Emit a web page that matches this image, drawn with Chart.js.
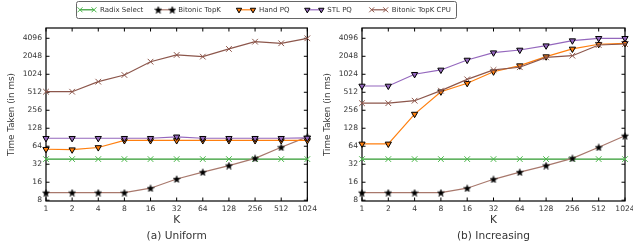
<!DOCTYPE html>
<html><head><meta charset="utf-8">
<script src="https://cdn.jsdelivr.net/npm/chart.js@4/dist/chart.umd.min.js"></script>
<style>
html,body{margin:0;padding:0;background:#fff;width:633px;height:248px;overflow:hidden;position:relative}
canvas{position:absolute;top:0}
</style></head><body>
<canvas id="leg" width="633" height="22" style="left:0"></canvas>
<canvas id="c1" width="320" height="248" style="left:0"></canvas>
<canvas id="c2" width="330" height="248" style="left:316px"></canvas>
<script>
// ---- data ----
const K = ['1','2','4','8','16','32','64','128','256','512','1024'];
const yTicks = [8,16,32,64,128,256,512,1024,2048,4096];
const seriesNames = ['Radix Select','Bitonic TopK','Hand PQ','STL PQ','Bitonic TopK CPU'];

const radixU   = [39,39,39,39,39,39,39,39,39,39,39];
const bitonicU = [10.7,10.7,10.7,10.7,12.7,18.1,23.6,30.4,40.2,61.5,92];
const handU    = [57,56,61,80,80,80,80,80,80,80,80];
const stlU     = [87,87,87,87,87,92,87,87,87,87,88];
const cpuU     = [523,523,770,996,1663,2156,2020,2717,3594,3380,4096];

const radixI   = [39,39,39,39,39,39,39,39,39,39,39];
const bitonicI = [10.7,10.7,10.7,10.7,12.7,17.9,23.6,30.4,40.2,61.5,96];
const handI    = [70,70,221,523,724,1130,1427,2020,2717,3257,3380];
const stlI     = [652,652,1024,1210,1773,2353,2609,3080,3740,4096,4096];
const cpuI     = [336,336,370,545,843,1210,1343,1966,2095,3166,3286];

// ---- styles ----
Chart.defaults.font.family = "'DejaVu Sans', sans-serif";
const TXT = '#333';
function makeStar(size, color) {
  const c = document.createElement('canvas'); c.width = c.height = size;
  const g = c.getContext('2d'); g.fillStyle = color; g.strokeStyle = '#222'; g.lineWidth = 0.6;
  g.beginPath();
  const cx = size/2, cy = size/2 + 0.4, R = size/2 - 0.3, r = R*0.45;
  for (let i = 0; i < 10; i++) {
    const a = -Math.PI/2 + i*Math.PI/5, rr = i % 2 ? r : R;
    g.lineTo(cx + rr*Math.cos(a), cy + rr*Math.sin(a));
  }
  g.closePath(); g.fill(); g.stroke(); return c;
}
const star = makeStar(8, '#000');
const styles = [
  {line:'#2e9a2e', fill:'#4cb84c', edge:'#4cb84c', pointStyle:'crossRot', radius:4, rotation:0, bw:1, order:5},
  {line:'#a8786c', fill:'#000', edge:'#000', pointStyle:star, radius:4, rotation:0, bw:0, order:4},
  {line:'#ff7f0e', fill:'#ff7f0e', edge:'#000', pointStyle:'triangle', radius:3.6, rotation:180, bw:1, order:3},
  {line:'#9467bd', fill:'#9467bd', edge:'#000', pointStyle:'triangle', radius:3.6, rotation:180, bw:1, order:2},
  {line:'#8c564b', fill:'#8c564b', edge:'#8c564b', pointStyle:'crossRot', radius:4, rotation:0, bw:1, order:1},
];
function datasets(arrs) {
  return arrs.map((d, i) => {
    const s = styles[i];
    return {
      label: seriesNames[i], data: d, borderColor: s.line, borderWidth: 1.2,
      backgroundColor: s.fill, pointBackgroundColor: s.fill, pointBorderColor: s.edge,
      pointBorderWidth: s.bw, pointStyle: s.pointStyle, pointRadius: s.radius,
      pointRotation: s.rotation, tension: 0, clip: false, order: s.order
    };
  });
}

const framePlugin = {
  id: 'frame',
  beforeDatasetsDraw(chart) {
    const {ctx, chartArea: a, scales: {x, y}} = chart;
    ctx.save();
    ctx.strokeStyle = '#000'; ctx.lineWidth = 1.2;
    ctx.strokeRect(a.left, a.top, a.right - a.left, a.bottom - a.top);
    ctx.lineWidth = 1;
    ctx.beginPath();
    K.forEach((k, i) => {
      const px = x.getPixelForTick(i);
      ctx.moveTo(px, a.bottom); ctx.lineTo(px, a.bottom - 3.5);
      ctx.moveTo(px, a.top); ctx.lineTo(px, a.top + 3.5);
    });
    yTicks.forEach(v => {
      const py = y.getPixelForValue(v);
      ctx.moveTo(a.left, py); ctx.lineTo(a.left + 3.5, py);
      ctx.moveTo(a.right, py); ctx.lineTo(a.right - 3.5, py);
    });
    ctx.stroke();
    ctx.restore();
  }
};

function makeChart(id, arrs, caption, padRight) {
  return new Chart(document.getElementById(id), {
    type: 'line',
    data: { labels: K, datasets: datasets(arrs) },
    plugins: [framePlugin],
    options: {
      responsive: false, animation: false, devicePixelRatio: 1,
      layout: { padding: { top: 28, right: padRight, left: 0, bottom: 0 } },
      plugins: { legend: { display: false }, tooltip: { enabled: false } },
      scales: {
        x: {
          type: 'category', offset: false,
          afterFit: s => { s.height = 47; },
          ticks: { font: { size: 7.6 }, color: TXT, padding: 3, maxRotation: 0, autoSkip: false },
          grid: { display: false, drawTicks: false }, border: { display: false },
          title: { display: true, text: ['K', caption], color: TXT,
                   font: { size: 10.6, lineHeight: 1.58 }, padding: { top: 0, bottom: 3 } }
        },
        y: {
          type: 'logarithmic', min: 7.76, max: 6090,
          afterBuildTicks: s => { s.ticks = yTicks.map(v => ({ value: v })); },
          afterFit: s => { s.width = 46; },
          ticks: { callback: v => String(v), font: { size: 7.6 }, color: TXT, padding: 4, autoSkip: false },
          grid: { display: false, drawTicks: false }, border: { display: false },
          title: { display: true, text: 'Time Taken (in ms)', color: TXT, font: { size: 8.8 }, padding: { top: 6, bottom: 0 } }
        }
      }
    }
  });
}

const chartA = makeChart('c1', [radixU, bitonicU, handU, stlU, cpuU], '(a) Uniform', 10.5);
const chartB = makeChart('c2', [radixI, bitonicI, handI, stlI, cpuI], '(b) Increasing', 21);

// ---- legend ----
const legendPos = [80, 158.3, 239, 307.3, 371.7];
const legendPlugin = {
  id: 'boxLegend',
  afterDraw(chart) {
    const ctx = chart.ctx;
    ctx.save();
    ctx.strokeStyle = '#666'; ctx.lineWidth = 1;
    ctx.beginPath();
    ctx.roundRect(76.5, 1.5, 380, 17, 2);
    ctx.stroke();
    const yc = 9.8;
    ctx.font = "7px 'DejaVu Sans', sans-serif";
    ctx.textBaseline = 'middle'; ctx.fillStyle = TXT;
    chartA.data.datasets.forEach((ds, i) => {
      const x0 = legendPos[i], x1 = x0 + 14;
      ctx.strokeStyle = ds.borderColor; ctx.lineWidth = 1.2;
      ctx.beginPath(); ctx.moveTo(x0, yc); ctx.lineTo(x1, yc); ctx.stroke();
      [x0, x1].forEach(px => {
        ctx.fillStyle = ds.pointBackgroundColor; ctx.strokeStyle = ds.pointBorderColor;
        ctx.lineWidth = ds.pointBorderWidth;
        Chart.helpers.drawPoint(ctx, { pointStyle: ds.pointStyle, radius: ds.pointRadius - 0.5,
          rotation: ds.pointRotation, borderWidth: ds.pointBorderWidth }, px, yc);
      });
      ctx.fillStyle = TXT;
      ctx.fillText(ds.label, x1 + 6, yc);
    });
    ctx.restore();
  }
};
new Chart(document.getElementById('leg'), {
  type: 'line', data: { labels: [], datasets: [] }, plugins: [legendPlugin],
  options: { responsive: false, animation: false, devicePixelRatio: 1,
    plugins: { legend: { display: false }, tooltip: { enabled: false } },
    scales: { x: { display: false }, y: { display: false } } }
});
</script>
</body></html>
